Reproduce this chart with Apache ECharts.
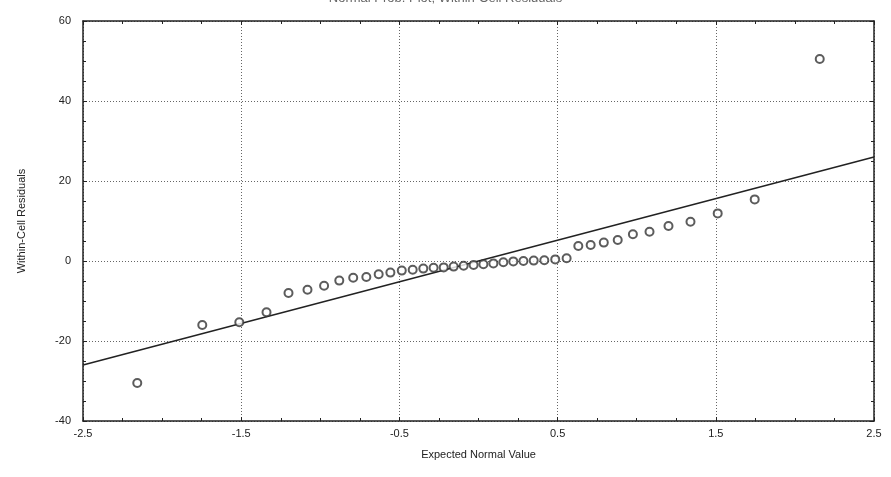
<!DOCTYPE html>
<html>
<head>
<meta charset="utf-8">
<script src="https://cdn.jsdelivr.net/npm/echarts@6/dist/echarts.min.js"></script>
<style>html,body{margin:0;padding:0;background:#fff;}#c{width:891px;height:477px;}</style>
</head>
<body>
<div id="c"></div>
<script>
// Expected normal values (x)
var expectedNormal = [-2.157,-1.746,-1.512,-1.340,-1.201,-1.081,-0.976,-0.880,-0.792,-0.709,
  -0.631,-0.557,-0.485,-0.416,-0.349,-0.284,-0.220,-0.157,-0.094,-0.031,
  0.031,0.094,0.157,0.220,0.284,0.349,0.416,0.485,0.557,0.631,
  0.709,0.792,0.880,0.976,1.081,1.201,1.340,1.512,1.746,2.157];
// Within-cell residuals (y)
var residuals = [-30.5,-16,-15.3,-12.8,-8,-7.2,-6.2,-4.9,-4.2,-4.0,
  -3.3,-2.9,-2.4,-2.2,-1.9,-1.7,-1.6,-1.4,-1.2,-1.0,
  -0.8,-0.6,-0.3,-0.1,0,0.1,0.2,0.4,0.7,3.75,
  4.0,4.6,5.25,6.7,7.3,8.75,9.8,11.9,15.4,50.5];
// Reference line end points
var lineX = [-2.5, 2.5];
var lineY = [-26, 26];
var xTickLabels = ['-2.5','-1.5','-0.5','0.5','1.5','2.5'];
var yTicks = [-40,-20,0,20,40,60];
var chartTitle = 'Normal Prob. Plot; Within-Cell Residuals';
var xName = 'Expected Normal Value';
var yName = 'Within-Cell Residuals';

var X_SHIFT = 2.5; // x axis is drawn from 0..5 so ticks land on -2.5, -1.5, ...
var pts = expectedNormal.map(function(x,i){ return [x + X_SHIFT, residuals[i]]; });
var linePts = lineX.map(function(x,i){ return [x + X_SHIFT, lineY[i]]; });

var font = 'Liberation Sans, Arial, sans-serif';
var chart = echarts.init(document.getElementById('c'));
var gridLine = {show:true, lineStyle:{color:'#666', type:[1,2], width:1}};
function frameAxis(pos, isX){
  return {
    type:'value', position:pos,
    min: isX ? 0 : yTicks[0], max: isX ? 5 : yTicks[yTicks.length-1], interval: isX ? 1 : 20,
    axisLine:{show:true, onZero:false, lineStyle:{color:'#222', width:1.5}},
    axisTick:{show:true, inside:true, length:4, lineStyle:{color:'#222'}},
    minorTick:{show:true, splitNumber:4, length:3, lineStyle:{color:'#222'}},
    splitLine:{show:false}, axisLabel:{show:false}
  };
}
var xMain = frameAxis('bottom', true);
xMain.splitLine = gridLine;
xMain.axisLabel = {show:true, color:'#222', fontFamily:font, fontSize:11, margin:7,
  formatter:function(v){ return xTickLabels[Math.round(v)]; }};
xMain.name = xName; xMain.nameLocation = 'middle'; xMain.nameGap = 28;
xMain.nameTextStyle = {color:'#222', fontFamily:font, fontSize:11};
var yMain = frameAxis('left', false);
yMain.splitLine = gridLine;
yMain.axisLabel = {show:true, color:'#222', fontFamily:font, fontSize:11, margin:12};
yMain.name = yName; yMain.nameLocation = 'middle'; yMain.nameGap = 56; yMain.nameRotate = 90;
yMain.nameTextStyle = {color:'#222', fontFamily:font, fontSize:11};

chart.setOption({
  animation:false,
  backgroundColor:'#fff',
  title:{text:chartTitle, left:'center', top:-13, textStyle:{fontFamily:font, fontSize:13, fontWeight:'normal', color:'#666'}},
  grid:{left:83, right:17, top:21, bottom:56, show:false},
  xAxis:[xMain, frameAxis('top', true)],
  yAxis:[yMain, frameAxis('right', false)],
  series:[{
    type:'line', data:linePts, showSymbol:false, symbol:'none',
    lineStyle:{color:'#222', width:1.5}, silent:true, z:2
  },{
    type:'scatter', data:pts, symbol:'emptyCircle', symbolSize:8,
    itemStyle:{color:'#333', borderWidth:1.6}, z:3
  }]
});
</script>
</body>
</html>
